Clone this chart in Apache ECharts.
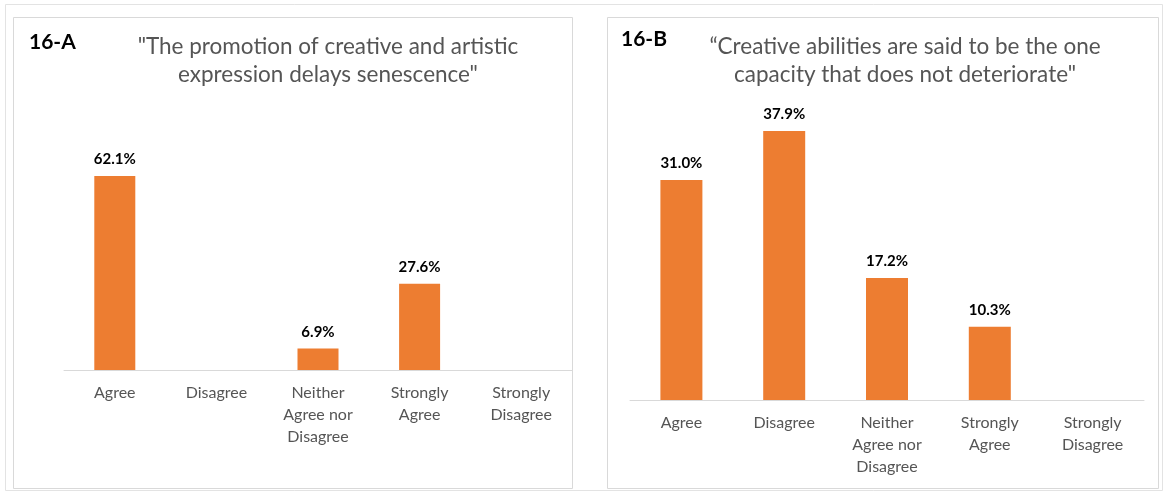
<!DOCTYPE html>
<html>
<head>
<meta charset="utf-8">
<script src="https://cdn.jsdelivr.net/npm/echarts@6/dist/echarts.min.js"></script>
<style>
  html, body { margin: 0; padding: 0; background: #fff; }
  #chart { width: 1164px; height: 492px; }
</style>
</head>
<body>
<div id="chart"></div>
<script>
// Response categories (shared by both panels)
const categories = ['Agree', 'Disagree', 'Neither\nAgree nor\nDisagree', 'Strongly\nAgree', 'Strongly\nDisagree'];

// 16-A: "The promotion of creative and artistic expression delays senescence"
const valuesA = [62.1, null, 6.9, 27.6, null];
// 16-B: "Creative abilities are said to be the one capacity that does not deteriorate"
const valuesB = [31.0, 37.9, 17.2, 10.3, null];

const titleA = '"The promotion of creative and artistic\nexpression delays senescence"';
const titleB = '\u201CCreative abilities are said to be the one\ncapacity that does not deteriorate"';
const tagA = '16-A';
const tagB = '16-B';

const FONT = 'Lato, "Open Sans", sans-serif';
const ORANGE = '#ED7D31';
const GREY_TEXT = '#555555';
const BORDER = '#d9d9d9';

const chart = echarts.init(document.getElementById('chart'), null, { renderer: 'canvas' });

function xAxisFor(gridIndex) {
  return {
    type: 'category',
    gridIndex: gridIndex,
    data: categories,
    axisTick: { show: false },
    axisLine: { lineStyle: { color: BORDER, width: 1 } },
    axisLabel: {
      interval: 0,
      color: GREY_TEXT,
      fontFamily: FONT,
      fontSize: 16,
      lineHeight: 22,
      margin: 12
    }
  };
}

function yAxisFor(gridIndex, max) {
  return {
    type: 'value',
    gridIndex: gridIndex,
    min: 0,
    max: max,
    show: false,
    splitLine: { show: false }
  };
}

function barSeries(idx, data, width) {
  return {
    type: 'bar',
    xAxisIndex: idx,
    yAxisIndex: idx,
    data: data,
    barWidth: width,
    itemStyle: { color: ORANGE },
    label: {
      show: true,
      position: 'top',
      distance: 9,
      color: '#000',
      fontFamily: FONT,
      fontWeight: 'bold',
      fontSize: 15,
      formatter: p => (p.value == null ? '' : p.value.toFixed(1) + '%')
    }
  };
}

chart.setOption({
  animation: false,
  backgroundColor: '#fff',
  grid: [
    { left: 64, right: 592, top: 167, bottom: 122 },
    { left: 630, right: 20, top: 116, bottom: 92 }
  ],
  xAxis: [xAxisFor(0), xAxisFor(1)],
  yAxis: [yAxisFor(0, 65), yAxisFor(1, 40)],
  series: [barSeries(0, valuesA, 41), barSeries(1, valuesB, 42)],
  graphic: [
    // outer frame
    { type: 'rect', z: -10, shape: { x: 5.5, y: 4.5, width: 1157, height: 486 },
      style: { fill: 'none', stroke: '#e3e3e3', lineWidth: 1 } },
    // panel borders
    { type: 'rect', z: -5, shape: { x: 13.5, y: 17.5, width: 559, height: 471 },
      style: { fill: '#fff', stroke: BORDER, lineWidth: 1 } },
    { type: 'rect', z: -5, shape: { x: 607.5, y: 17.5, width: 551, height: 471 },
      style: { fill: '#fff', stroke: BORDER, lineWidth: 1 } },
    // panel tags
    { type: 'text', left: 29, top: 32,
      style: { text: tagA, fill: '#000', font: 'bold 21px ' + FONT } },
    { type: 'text', left: 621, top: 29,
      style: { text: tagB, fill: '#000', font: 'bold 21px ' + FONT } },
    // panel titles
    { type: 'text', x: 328, y: 33,
      style: { text: titleA, fill: GREY_TEXT, font: '22.5px ' + FONT, align: 'center', lineHeight: 28 } },
    { type: 'text', x: 905, y: 33,
      style: { text: titleB, fill: GREY_TEXT, font: '22.5px ' + FONT, align: 'center', lineHeight: 28 } }
  ]
});
</script>
</body>
</html>
